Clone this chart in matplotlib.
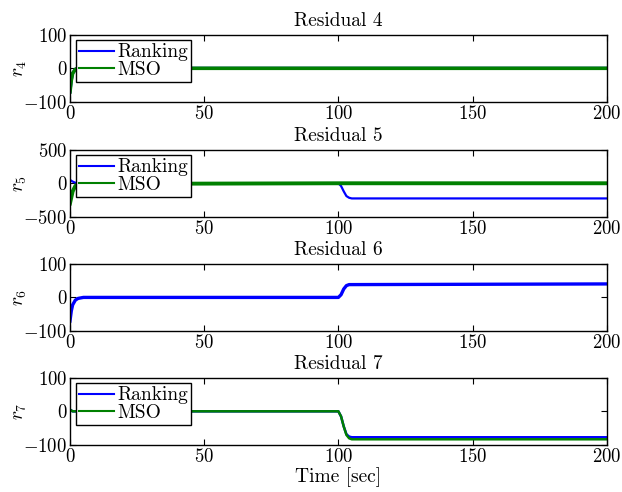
import matplotlib
matplotlib.use("Agg")
import matplotlib.pyplot as plt

plt.rcParams['font.family'] = 'serif'
plt.rcParams['font.serif'] = ['cmr10']
plt.rcParams['mathtext.fontset'] = 'cm'
plt.rcParams['axes.formatter.use_mathtext'] = True
plt.rcParams['font.size'] = 13.5

# Residual 4
t4 = [0, 0.5, 1, 2, 3, 200]
r4_rank = [-70, -35, -15, -3, 0, 0]
r4_mso = [-70, -35, -15, -3, 0, 0]

# Residual 5
t5 = [0, 1, 2, 3, 100, 101, 102, 103, 104, 105, 200]
r5_rank = [50, 25, 8, 0, 0, -40, -120, -190, -215, -225, -225]
r5_mso = [-300, -120, -40, -10, 0, 0, 0, 0, 0, 0, 0]

# Residual 6
t6 = [0, 0.5, 1, 2, 3, 5, 100, 101, 102, 103, 104, 200]
r6_rank = [-70, -40, -22, -8, -3, 0, 0, 8, 25, 35, 38, 40]

# Residual 7
t7 = [0, 1, 100, 101, 102, 103, 104, 105, 200]
r7_rank = [5, 0, 0, -15, -45, -68, -75, -77, -77]
r7_mso = [5, 0, 0, -15, -45, -70, -80, -83, -83]

blue = (0, 0, 1)
green = (0, 0.5, 0)

fig = plt.figure(figsize=(6.22, 4.92), dpi=100)
left, width, height = 0.1125, 0.863, 0.137
bottoms = [0.7927, 0.559, 0.327, 0.0955]
axes = [fig.add_axes([left, b, width, height]) for b in bottoms]

ax = axes[0]
ax.plot(t4, r4_rank, color=blue, lw=2.2, label='Ranking')
ax.plot(t4, r4_mso, color=green, lw=2.6, label='MSO')
ax.set_ylim(-100, 100)
ax.set_yticks([-100, 0, 100])
ax.set_title('Residual 4', fontsize=14, pad=6)
ax.set_ylabel('$r_4$', fontsize=14)

ax = axes[1]
ax.plot(t5, r5_rank, color=blue, lw=1.6, label='Ranking')
ax.plot(t5, r5_mso, color=green, lw=2.8, label='MSO')
ax.set_ylim(-500, 500)
ax.set_yticks([-500, 0, 500])
ax.set_title('Residual 5', fontsize=14, pad=6)
ax.set_ylabel('$r_5$', fontsize=14)

ax = axes[2]
ax.plot(t6, r6_rank, color=blue, lw=2.4)
ax.set_ylim(-100, 100)
ax.set_yticks([-100, 0, 100])
ax.set_title('Residual 6', fontsize=14, pad=6)
ax.set_ylabel('$r_6$', fontsize=14)

ax = axes[3]
ax.plot(t7, r7_rank, color=blue, lw=1.8, label='Ranking')
ax.plot(t7, r7_mso, color=green, lw=1.8, label='MSO')
ax.set_ylim(-100, 100)
ax.set_yticks([-100, 0, 100])
ax.set_title('Residual 7', fontsize=14, pad=6)
ax.set_ylabel('$r_7$', fontsize=14)
ax.set_xlabel('Time [sec]', fontsize=14, labelpad=1)

for i, ax in enumerate(axes):
    ax.set_xlim(0, 200)
    ax.set_xticks([0, 50, 100, 150, 200])
    ax.tick_params(direction='in', top=True, right=True, length=4, pad=2,
                   labelsize=13.5)
    for s in ax.spines.values():
        s.set_linewidth(1.0)
    ax.yaxis.set_label_coords(-0.076, 0.5)
    if i != 2:
        leg = ax.legend(loc='upper left', handlelength=1.8, borderaxespad=0.3,
                        fancybox=False, framealpha=1, edgecolor='black',
                        borderpad=0.15, labelspacing=0.0, handletextpad=0.2,
                        fontsize=14)
        leg.get_frame().set_linewidth(1.0)
        for h in leg.get_lines():
            h.set_linewidth(1.5)

fig.savefig('out.png', dpi=100)
